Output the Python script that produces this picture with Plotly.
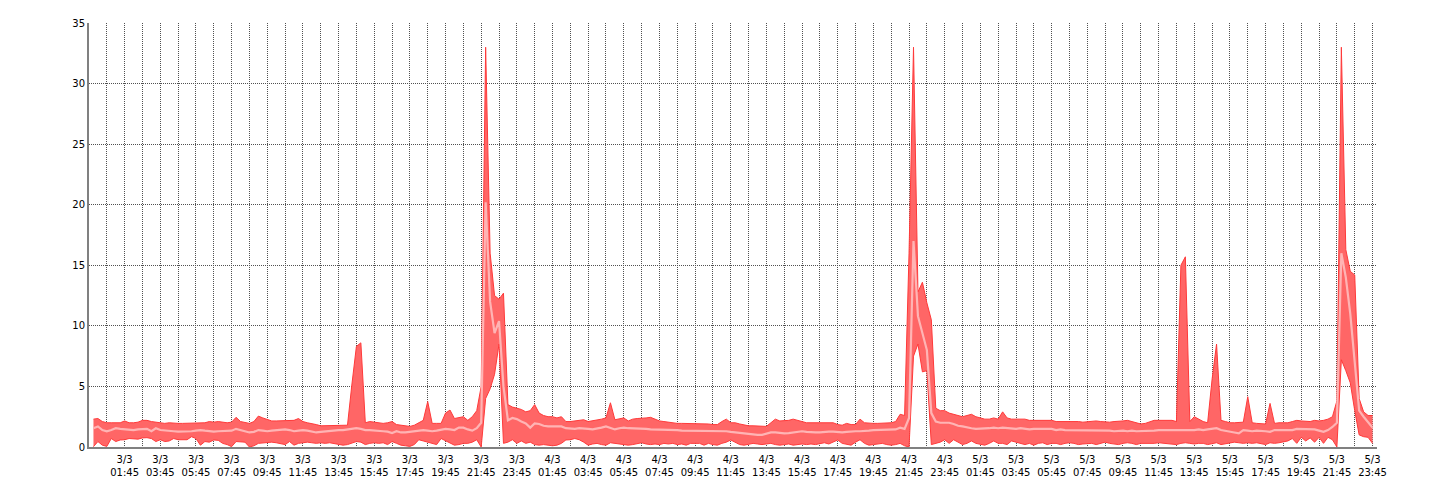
import pandas as pd
import plotly.graph_objects as go

# 15-minute samples, 3/3 00:00 -> 5/3 23:45 (one row = one hour, 4 samples)
start_time = "2016-03-03 00:00"
n_points = 288

max_vals = [
    # 3/3
    2.3, 2.35, 2.1, 2.0,   2.0, 2.0, 2.0, 2.15,   2.0, 2.0, 2.05, 2.2,   2.2, 2.1, 2.05, 1.95,
    1.95, 2.0, 1.95, 1.95, 1.95, 1.95, 2.0, 1.95,  2.0, 2.0, 2.1, 2.05,   2.1, 2.05, 2.0, 2.05,
    2.45, 2.1, 2.0, 1.95,  2.1, 2.55, 2.4, 2.3,    2.15, 2.15, 2.15, 2.15, 2.15, 2.2, 2.35, 2.1,
    2.0, 1.95, 1.85, 1.75, 1.75, 1.8, 1.8, 1.8,    1.8, 1.8, 5.2, 8.3,    8.6, 2.0, 2.1, 2.05,
    2.0, 1.95, 2.0, 2.1,   1.85, 1.8, 1.75, 1.7,   1.8, 2.0, 2.2, 3.75,   1.95, 1.95, 1.95, 2.8,
    3.05, 2.35, 2.4, 2.5,  2.2, 2.5, 3.0, 5.0,     33.0, 16.0, 12.5, 12.2, 12.7, 3.5, 3.3, 3.2,
    # 4/3
    3.1, 2.9, 3.0, 3.5,    2.8, 2.6, 2.5, 2.5,     2.4, 2.5, 2.1, 2.1,    2.15, 2.2, 2.25, 2.1,
    2.15, 2.25, 2.3, 2.4,  3.65, 2.25, 2.3, 2.4,   2.15, 2.3, 2.35, 2.35, 2.4, 2.45, 2.3, 2.15,
    2.1, 2.05, 1.95, 1.95, 1.95, 1.95, 1.95, 1.9,  1.9, 1.9, 1.9, 1.85,   1.85, 2.1, 2.3, 2.0,
    2.0, 1.9, 1.8, 1.75,   1.75, 1.75, 1.75, 1.7,  2.0, 2.3, 2.15, 2.15,  2.2, 2.3, 2.2, 2.05,
    2.0, 2.0, 2.0, 2.0,    2.0, 2.0, 2.0, 1.85,    1.8, 1.95, 1.85, 1.85, 2.3, 2.0, 1.95, 1.95,
    1.95, 1.95, 2.0, 2.0,  2.1, 2.7, 2.6, 16.0,    33.0, 12.8, 13.6, 11.9, 10.5, 3.2, 3.0, 3.0,
    # 5/3
    2.8, 2.7, 2.6, 2.5,    2.6, 2.7, 2.5, 2.4,     2.3, 2.3, 2.4, 2.3,    2.9, 2.4, 2.3, 2.3,
    2.3, 2.3, 2.2, 2.2,    2.2, 2.2, 2.15, 2.2,    2.1, 2.1, 2.1, 2.15,   2.1, 2.1, 2.05, 2.1,
    2.1, 2.15, 2.1, 2.05,  2.05, 2.1, 2.1, 2.15,   2.2, 2.1, 1.95, 1.9,   1.95, 2.1, 2.2, 2.2,
    2.2, 2.2, 2.2, 2.1,    15.0, 15.7, 2.1, 2.5,   2.3, 2.1, 2.0, 5.6,    8.5, 2.2, 2.1, 2.0,
    2.0, 2.0, 2.05, 4.15,  2.0, 1.95, 1.95, 1.9,   3.6, 1.95, 2.0, 2.0,   2.0, 2.1, 2.2, 2.15,
    2.1, 2.1, 2.2, 2.15,   2.2, 2.3, 2.5, 3.8,     33.0, 16.3, 14.5, 14.2, 4.0, 2.9, 2.6, 2.6,
]

mean_vals = [
    # 3/3
    1.55, 1.7, 1.4, 1.3,   1.4, 1.55, 1.5, 1.45,   1.4, 1.4, 1.45, 1.5,   1.5, 1.3, 1.55, 1.4,
    1.35, 1.3, 1.3, 1.27,  1.27, 1.3, 1.3, 1.35,   1.4, 1.35, 1.3, 1.27,  1.3, 1.3, 1.3, 1.35,
    1.5, 1.4, 1.3, 1.2,    1.25, 1.4, 1.35, 1.3,   1.35, 1.4, 1.4, 1.45,  1.4, 1.3, 1.35, 1.4,
    1.35, 1.25, 1.2, 1.25, 1.3, 1.3, 1.35, 1.4,    1.4, 1.45, 1.5, 1.55,  1.5, 1.4, 1.4, 1.35,
    1.35, 1.3, 1.27, 1.15, 1.3, 1.2, 1.2, 1.25,    1.3, 1.35, 1.4, 1.35,  1.3, 1.35, 1.4, 1.5,
    1.45, 1.4, 1.6, 1.6,   1.45, 1.35, 1.55, 2.0,  20.2, 12.0, 9.4, 10.4, 5.0, 2.2, 2.4, 2.3,
    # 4/3
    2.1, 1.95, 1.6, 1.95,  1.9, 1.75, 1.7, 1.7,    1.75, 1.7, 1.55, 1.5,  1.5, 1.55, 1.55, 1.5,
    1.45, 1.5, 1.6, 1.7,   1.55, 1.45, 1.55, 1.6,  1.55, 1.55, 1.55, 1.5, 1.5, 1.45, 1.45, 1.45,
    1.4, 1.4, 1.4, 1.4,    1.35, 1.35, 1.35, 1.35, 1.35, 1.35, 1.35, 1.35, 1.3, 1.3, 1.3, 1.25,
    1.2, 1.15, 1.13, 1.1,  1.05, 1.0, 1.0, 1.1,    1.2, 1.2, 1.15, 1.13,  1.15, 1.2, 1.3, 1.3,
    1.25, 1.2, 1.2, 1.2,   1.25, 1.27, 1.27, 1.25, 1.2, 1.25, 1.3, 1.3,   1.3, 1.3, 1.35, 1.4,
    1.4, 1.4, 1.45, 1.4,   1.45, 1.6, 1.5, 2.4,    17.0, 10.8, 9.4, 8.0,  2.8, 2.1, 2.0, 2.0,
    # 5/3
    2.0, 1.9, 1.75, 1.7,   1.6, 1.55, 1.5, 1.5,    1.5, 1.55, 1.6, 1.55,  1.6, 1.55, 1.5, 1.5,
    1.55, 1.5, 1.45, 1.5,  1.5, 1.45, 1.45, 1.5,   1.4, 1.45, 1.4, 1.4,   1.4, 1.35, 1.4, 1.4,
    1.35, 1.35, 1.4, 1.35, 1.35, 1.3, 1.35, 1.35,  1.3, 1.35, 1.3, 1.3,   1.3, 1.35, 1.35, 1.4,
    1.4, 1.4, 1.35, 1.4,   1.4, 1.4, 1.35, 1.4,    1.45, 1.4, 1.45, 1.5,  1.55, 1.4, 1.35, 1.25,
    1.2, 1.13, 1.4, 1.35,  1.3, 1.35, 1.35, 1.3,   1.25, 1.4, 1.4, 1.4,   1.35, 1.4, 1.5, 1.5,
    1.5, 1.5, 1.45, 1.35,  1.25, 1.4, 1.65, 2.0,   16.0, 14.0, 11.0, 7.0, 3.0, 2.5, 2.0, 1.6,
]

min_vals = [
    # 3/3
    0.03, 0.45, 0.15, 0.05, 0.7, 0.45, 0.58, 0.6,  0.7, 0.65, 0.65, 0.75,  0.77, 0.7, 0.45, 0.6,
    0.45, 0.5, 0.7, 0.6,    0.6, 0.6, 0.85, 0.7,   0.15, 0.45, 0.4, 0.58,  0.55, 0.3, 0.2, 0.03,
    0.45, 0.45, 0.4, 0.0,   0.1, 0.3, 0.35, 0.4,   0.4, 0.35, 0.3, 0.2,    0.45, 0.15, 0.3, 0.35,
    0.4, 0.35, 0.3, 0.35,   0.3, 0.35, 0.3, 0.25,  0.15, 0.2, 0.3, 0.45,   0.4, 0.2, 0.3, 0.35,
    0.3, 0.35, 0.2, 0.45,   0.3, 0.15, 0.1, 0.05,  0.2, 0.6, 0.5, 0.4,     0.3, 0.2, 0.7, 0.5,
    0.3, 0.15, 0.2, 0.3,    0.3, 0.4, 0.6, 0.0,    4.0, 4.8, 6.0, 8.5,     0.3, 0.4, 0.6, 0.3,
    # 4/3
    0.5, 0.3, 0.4, 0.2,     0.15, 0.2, 0.15, 0.1,  0.15, 0.3, 0.58, 0.6,   0.7, 0.6, 0.4, 0.15,
    0.25, 0.3, 0.2, 0.15,   0.35, 0.3, 0.25, 0.2,  0.15, 0.2, 0.3, 0.35,   0.25, 0.2, 0.25, 0.2,
    0.3, 0.25, 0.3, 0.2,    0.25, 0.15, 0.3, 0.3,  0.3, 0.15, 0.3, 0.2,    0.15, 0.3, 0.4, 0.58,
    0.4, 0.2, 0.15, 0.25,   0.3, 0.25, 0.2, 0.25,  0.3, 0.2, 0.15, 0.2,    0.25, 0.15, 0.2, 0.25,
    0.2, 0.25, 0.2, 0.3,    0.35, 0.25, 0.4, 0.58, 0.3, 0.2, 0.15, 0.4,    0.6, 0.3, 0.15, 0.2,
    0.25, 0.3, 0.2, 0.15,   0.2, 0.3, 0.1, 0.0,    7.5, 8.5, 6.2, 6.3,     0.2, 0.3, 0.4, 0.6,
    # 5/3
    0.3, 0.6, 0.4, 0.2,     0.3, 0.5, 0.3, 0.2,    0.15, 0.3, 0.5, 0.3,    0.3, 0.2, 0.5, 0.4,
    0.3, 0.2, 0.3, 0.15,    0.3, 0.35, 0.2, 0.3,   0.3, 0.2, 0.3, 0.35,    0.3, 0.2, 0.25, 0.3,
    0.3, 0.2, 0.3, 0.4,     0.3, 0.25, 0.2, 0.3,   0.35, 0.3, 0.2, 0.3,    0.3, 0.25, 0.3, 0.35,
    0.3, 0.3, 0.25, 0.2,    0.3, 0.35, 0.3, 0.25,  0.3, 0.3, 0.2, 0.3,     0.35, 0.2, 0.25, 0.3,
    0.4, 0.35, 0.3, 0.35,   0.3, 0.35, 0.3, 0.2,   0.35, 0.3, 0.35, 0.4,   0.5, 0.7, 0.3, 0.8,
    0.5, 0.75, 0.4, 0.8,    0.3, 0.8, 0.6, 0.0,    7.2, 6.3, 5.3, 3.0,     1.0, 0.85, 0.8, 0.3,
]

y_tick_values = [0, 5, 10, 15, 20, 25, 30, 35]
grid_start = "2016-03-03 00:45"   # hourly vertical grid at :45
x_range = ["2016-03-02 23:45", "2016-03-06 00:00"]

times = pd.date_range(start_time, periods=n_points, freq="15min")

# hourly grid ticks, labelled every second hour
grid_times = pd.date_range(grid_start, periods=72, freq="60min")
tick_text = [
    (f"{t.day}/{t.month}<br>{t.strftime('%H:%M')}" if i % 2 == 1 else "")
    for i, t in enumerate(grid_times)
]

band_fill = "rgba(255,102,102,1)"
edge = "#ff3a3a"
mean_col = "#ffb4b4"
grid_col = "#505050"

fig = go.Figure()
fig.add_trace(go.Scatter(x=times, y=min_vals, mode="lines",
                         line=dict(color=edge, width=1), hoverinfo="skip"))
fig.add_trace(go.Scatter(x=times, y=max_vals, mode="lines", fill="tonexty",
                         fillcolor=band_fill,
                         line=dict(color=edge, width=1), hoverinfo="skip"))
fig.add_trace(go.Scatter(x=times, y=mean_vals, mode="lines",
                         line=dict(color=mean_col, width=2.2), hoverinfo="skip"))

# the page body adds an offset, margins compensate for it
fig.update_layout(
    width=1440, height=500,
    margin=dict(l=81, r=71, t=9, b=61),
    paper_bgcolor="white", plot_bgcolor="white",
    showlegend=False,
    font=dict(family="DejaVu Sans, Verdana, sans-serif", size=10, color="#000"),
)
fig.update_xaxes(
    range=x_range,
    tickmode="array", tickvals=grid_times, ticktext=tick_text,
    showgrid=True, gridcolor=grid_col, griddash="1px,1px", gridwidth=1,
    showline=True, linecolor="#808080", linewidth=2,
    ticks="", ticklen=0, zeroline=False, ticklabelstandoff=2,
)
fig.update_yaxes(
    range=[0, 35], tickmode="array", tickvals=y_tick_values,
    showgrid=True, gridcolor=grid_col, griddash="1px,1px", gridwidth=1,
    showline=True, linecolor="#808080", linewidth=2,
    ticks="", zeroline=False,
)

fig.write_html("out.html")
